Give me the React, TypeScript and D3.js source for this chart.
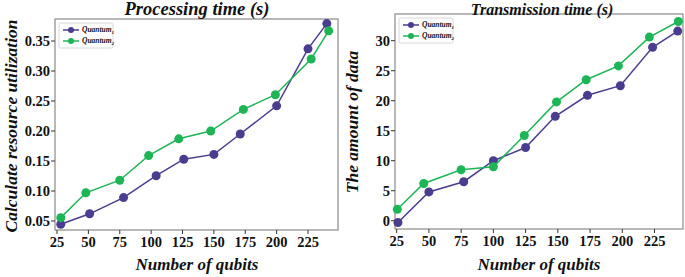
import React from "react";
import * as d3 from "d3";

const xTicks = [25, 50, 75, 100, 125, 150, 175, 200, 225];
const seriesNames = ["Quantum1", "Quantum2"];

// Processing time panel
const procX1 = [28, 51, 78, 104, 126, 150, 171, 200, 225, 240];
const procY1 = [0.0445, 0.062, 0.089, 0.1255, 0.153, 0.161, 0.195, 0.242, 0.337, 0.379];
const procX2 = [28, 48, 75, 98, 122, 147.5, 173.5, 199, 227.5, 241.5];
const procY2 = [0.0556, 0.097, 0.118, 0.159, 0.187, 0.2, 0.236, 0.2605, 0.32, 0.367];
const procYTicks = [0.05, 0.1, 0.15, 0.2, 0.25, 0.3, 0.35];

// Transmission time panel
const transX1 = [26, 50, 77, 100, 125, 148, 173, 198.5, 223.5, 243];
const transY1 = [-0.3, 4.8, 6.5, 10, 12.2, 17.4, 20.9, 22.5, 28.9, 31.6];
const transX2 = [25.5, 46, 75, 100, 124, 149, 172, 197, 221, 243.5];
const transY2 = [1.9, 6.2, 8.5, 9.0, 14.2, 19.8, 23.5, 25.8, 30.6, 33.2];
const transYTicks = [0, 5, 10, 15, 20, 25, 30];

const COLORS = ["#4a3d8f", "#1db556"];
const FONT = "'Liberation Serif', 'Times New Roman', serif";

type PanelProps = {
  left: number; right: number; top: number; bottom: number;
  xDomain: [number, number]; yDomain: [number, number];
  yTicks: number[]; yFmt: (v: number) => string;
  series: { xs: number[]; ys: number[] }[];
  title: string; titleX: number; titleY: number; titleSize: number;
  yLabel: string; yLabelX: number; yLabelY: number; yLabelSize: number;
  xLabelX: number;
  legendX: number; legendY: number;
};

function Panel(p: PanelProps) {
  const x = d3.scaleLinear().domain(p.xDomain).range([p.left, p.right]);
  const y = d3.scaleLinear().domain(p.yDomain).range([p.bottom, p.top]);
  const line = d3.line<[number, number]>().x(d => x(d[0])).y(d => y(d[1]));
  return (
    <g>
      <rect x={p.left} y={p.top} width={p.right - p.left} height={p.bottom - p.top}
        fill="white" stroke="#8a8a8a" strokeWidth={1.2} />
      {p.yTicks.map(t => (
        <g key={"y" + t}>
          <line x1={p.left - 4} x2={p.left} y1={y(t)} y2={y(t)} stroke="#333" strokeWidth={1} />
          <text x={p.left - 5} y={y(t)} dy="0.35em" textAnchor="end"
            fontFamily={FONT} fontWeight="bold" fontSize={14.5} fill="#111">{p.yFmt(t)}</text>
        </g>
      ))}
      {xTicks.map(t => (
        <g key={"x" + t}>
          <line x1={x(t)} x2={x(t)} y1={p.bottom} y2={p.bottom + 4} stroke="#333" strokeWidth={1} />
          <text x={x(t)} y={p.bottom + 17} textAnchor="middle"
            fontFamily={FONT} fontWeight="bold" fontSize={14.5} fill="#111">{t}</text>
        </g>
      ))}
      {p.series.map((s, i) => {
        const pts = s.xs.map((v, j) => [v, s.ys[j]] as [number, number]);
        return (
          <g key={"s" + i}>
            <path d={line(pts) || ""} fill="none" stroke={COLORS[i]} strokeWidth={1.5} />
            {pts.map((d, j) => (
              <circle key={j} cx={x(d[0])} cy={y(d[1])} r={4.5} fill={COLORS[i]} />
            ))}
          </g>
        );
      })}
      <g transform={`translate(${p.legendX},${p.legendY})`}>
        <rect x={0} y={0} width={54} height={25} fill="white" stroke="#cccccc" strokeWidth={0.8} rx={1.5} />
        {seriesNames.map((n, i) => (
          <g key={n} transform={`translate(0,${7 + i * 11})`}>
            <line x1={4} x2={20} y1={0} y2={0} stroke={COLORS[i]} strokeWidth={1.5} />
            <circle cx={12} cy={0} r={3} fill={COLORS[i]} />
            <text x={23} y={0} dy="0.33em" fontFamily={FONT} fontStyle="italic" fontWeight="bold"
              fontSize={7.5} fill="#111">Quantum<tspan fontSize={5} dy="2">{i + 1}</tspan></text>
          </g>
        ))}
      </g>
      <text x={p.titleX} y={p.titleY} textAnchor="middle" fontFamily={FONT} fontStyle="italic"
        fontWeight="bold" fontSize={p.titleSize} fill="#111">{p.title}</text>
      <text x={p.xLabelX} y={270} textAnchor="middle" fontFamily={FONT} fontStyle="italic"
        fontWeight="bold" fontSize={17} fill="#111">Number of qubits</text>
      <text transform={`translate(${p.yLabelX},${p.yLabelY}) rotate(-90)`} textAnchor="middle"
        fontFamily={FONT} fontStyle="italic" fontWeight="bold" fontSize={p.yLabelSize} fill="#111">{p.yLabel}</text>
    </g>
  );
}

export default function App() {
  return (
    <svg width={685} height={277} style={{ position: "absolute", left: 0, top: 0, background: "white" }}>
      <Panel left={55} right={338} top={19} bottom={230}
        xDomain={[23.4, 248.9]} yDomain={[0.035, 0.3867]}
        yTicks={procYTicks} yFmt={d3.format(".2f")}
        series={[{ xs: procX1, ys: procY1 }, { xs: procX2, ys: procY2 }]}
        title="Processing time (s)" titleX={197} titleY={15} titleSize={18.5}
        yLabel="Calculate resource utilization" yLabelX={17} yLabelY={126} yLabelSize={17.5}
        xLabelX={197} legendX={59} legendY={23} />
      <Panel left={395} right={683} top={14} bottom={229}
        xDomain={[23.7, 247.1]} yDomain={[-1.38, 34.45]}
        yTicks={transYTicks} yFmt={d3.format("d")}
        series={[{ xs: transX1, ys: transY1 }, { xs: transX2, ys: transY2 }]}
        title="Transmission time (s)" titleX={542} titleY={14.5} titleSize={16}
        yLabel="The amount of data" yLabelX={358} yLabelY={122} yLabelSize={17.5}
        xLabelX={539} legendX={399} legendY={18} />
    </svg>
  );
}
